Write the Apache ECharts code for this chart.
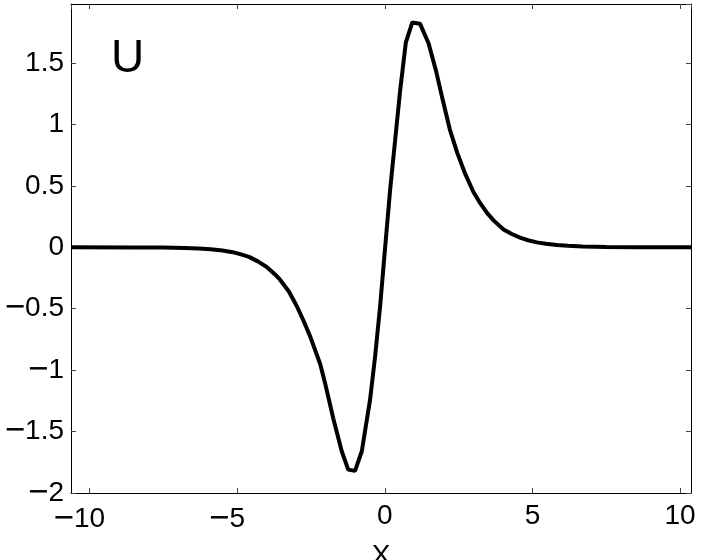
<!DOCTYPE html>
<html>
<head>
<meta charset="utf-8">
<script src="https://cdn.jsdelivr.net/npm/echarts@6/dist/echarts.min.js"></script>
<style>
  html, body { margin: 0; padding: 0; background: #fff; }
  #U { width: 703px; height: 560px; }
</style>
</head>
<body>
<div id="U"></div>
<script>
// 读图得到的曲线点 (x, U)
var xs = [-10.63, -8.5, -7.5, -6.8, -6.3, -5.9, -5.5, -5.15, -4.9, -4.6, -4.3, -4.0, -3.7, -3.55, -3.25,
    -2.98, -2.75, -2.53, -2.19, -2.03, -1.74, -1.46, -1.24, -1.01, -0.78, -0.5, -0.33, -0.16, 0.01,
    0.18, 0.35, 0.52, 0.71, 0.93, 1.19, 1.48, 1.74, 1.96, 2.2, 2.45, 2.7, 3.0, 3.2, 3.46, 3.7,
    4.02, 4.3, 4.58, 4.85, 5.15, 5.45, 5.83, 6.2, 6.7, 7.5, 8.5, 10.37];
var us = [0, -0.001, -0.002, -0.005, -0.01, -0.016, -0.026, -0.04, -0.056, -0.078, -0.115, -0.16, -0.225, -0.264, -0.36,
    -0.48, -0.6, -0.725, -0.95, -1.1, -1.4, -1.66, -1.81, -1.82, -1.66, -1.24, -0.89, -0.48, 0,
    0.47, 0.874, 1.28, 1.665, 1.83, 1.82, 1.66, 1.43, 1.2, 0.96, 0.77, 0.61, 0.45, 0.37, 0.28, 0.215,
    0.145, 0.108, 0.078, 0.057, 0.04, 0.029, 0.019, 0.012, 0.007, 0.003, 0.001, 0];
var xRange = [-10.63, 10.37];
var yRange = [-2, 1.98];
var yStep = 0.5;

var FONT = 'Liberation Sans';

function xLabel(v) {
    if (v < 0) {
        // 负号悬在左边，数字居中对齐刻度
        return '{m|\u2212}{d|' + Math.abs(v) + '}{h|\u2212}';
    }
    return '{d|' + v + '}';
}
function yLabel(v) {
    return v < 0 ? '{m|\u2212}{d|' + Math.abs(v) + '}' : '{d|' + v + '}';
}

var labelRich = {
    d: { fontSize: 28, fontFamily: FONT, color: '#000' },
    m: { fontSize: 35, fontFamily: FONT, color: '#000' },
    h: { fontSize: 35, fontFamily: FONT, color: 'rgba(0,0,0,0)' }
};

var myChart = echarts.init(document.getElementById('U'));
var tickStyle = { show: true, inside: true, length: 5, lineStyle: { color: '#444', width: 1 } };
var lineStyle = { show: true, onZero: false, lineStyle: { color: '#000', width: 1 } };

var option = {
    animation: false,
    backgroundColor: '#fff',
    grid: { left: 71, right: 12, top: 4, bottom: 67, containLabel: false, outerBoundsMode: 'none' },
    xAxis: [{
        type: 'value',
        position: 'bottom',
        min: xRange[0],
        max: xRange[1],
        splitNumber: 5,
        axisLine: lineStyle,
        axisTick: tickStyle,
        splitLine: { show: false },
        axisLabel: {
            showMinLabel: false,
            showMaxLabel: false,
            margin: 9,
            color: '#000',
            fontSize: 28,
            fontFamily: FONT,
            formatter: xLabel,
            rich: labelRich
        },
        name: 'X',
        nameLocation: 'middle',
        nameGap: 43,
        nameTextStyle: { fontSize: 28, fontFamily: FONT, color: '#000' }
    }, {
        type: 'value',
        position: 'top',
        min: xRange[0],
        max: xRange[1],
        splitNumber: 5,
        axisLine: lineStyle,
        axisTick: tickStyle,
        splitLine: { show: false },
        axisLabel: { show: false }
    }],
    yAxis: [{
        type: 'value',
        position: 'left',
        min: yRange[0],
        max: yRange[1],
        interval: yStep,
        axisLine: lineStyle,
        axisTick: tickStyle,
        splitLine: { show: false },
        axisLabel: {
            showMaxLabel: false,
            margin: 7,
            color: '#000',
            fontSize: 28,
            fontFamily: FONT,
            formatter: yLabel,
            rich: labelRich
        }
    }, {
        type: 'value',
        position: 'right',
        min: yRange[0],
        max: yRange[1],
        interval: yStep,
        axisLine: lineStyle,
        axisTick: tickStyle,
        splitLine: { show: false },
        axisLabel: { show: false }
    }],
    graphic: [{
        type: 'text',
        left: 111,
        top: 36,
        style: { text: 'U', fontSize: 46, fontFamily: FONT, fill: '#000' }
    }],
    series: [{
        name: 'U',
        type: 'line',
        xAxisIndex: 0,
        yAxisIndex: 0,
        data: xs.map(function (x, i) { return [x, us[i]]; }),
        showSymbol: false,
        smooth: false,
        lineStyle: { color: '#000', width: 4 }
    }]
};
myChart.setOption(option);
</script>
</body>
</html>
